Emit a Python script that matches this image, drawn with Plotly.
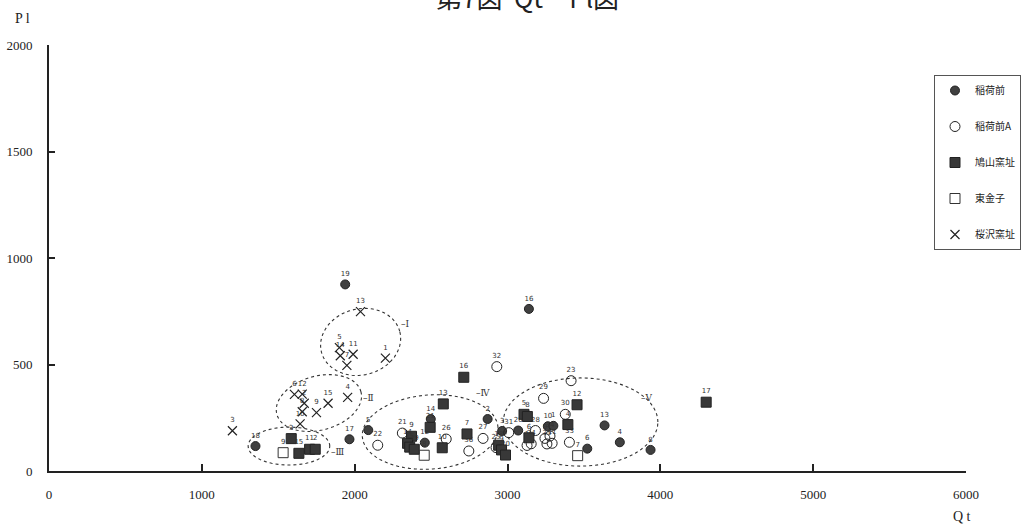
import numpy as np
import plotly.graph_objects as go

# ---- data: Qt / Pl values per site, with sample numbers ----
inari_no = ["19", "18", "17", "5", "12", "14", "2", "3", "20", "16", "10", "1", "6", "13", "4", "8"]
inari_qt = [1938, 1351, 1966, 2089, 2459, 2498, 2870, 2965, 3070, 3140, 3264, 3300, 3522, 3635, 3735, 3936]
inari_pl = [876, 117, 149, 192, 133, 244, 244, 188, 190, 761, 210, 212, 105, 214, 135, 99]

inariA_no = ["22", "21", "26", "36", "27", "32", "25", "31", "28", "24", "1", "29", "23", "30", "9", "34", "35", "11", "33"]
inariA_qt = [2151, 2312, 2599, 2747, 2840, 2930, 2925, 3008, 3183, 3155, 3128, 3236, 3416, 3378, 3245, 3278, 3258, 3292, 3405]
inariA_pl = [121, 178, 150, 94, 153, 490, 110, 180, 190, 128, 120, 341, 424, 266, 153, 164, 127, 130, 135]

hato_no = ["3", "15", "11", "2", "9", "14", "15", "19", "21", "13", "16", "10", "7", "18", "9", "20", "5", "8", "6", "12", "4", "17"]
hato_qt = [1585, 1635, 1705, 1742, 2372, 2346, 2360, 2390, 2494, 2580, 2714, 2573, 2735, 2942, 2961, 2987, 3108, 3130, 3140, 3455, 3395, 4300]
hato_pl = [152, 83, 102, 102, 163, 130, 112, 102, 205, 315, 440, 109, 174, 121, 99, 75, 266, 256, 156, 311, 218, 323]

higashi_no = ["9", "8", "7"]
higashi_qt = [1532, 2455, 3459]
higashi_pl = [86, 74, 72]

sakura_no = ["13", "5", "11", "14", "7", "1", "12", "6", "2", "8", "9", "15", "4", "10", "3"]
sakura_qt = [2038, 1900, 1990, 1906, 1949, 2201, 1657, 1606, 1670, 1657, 1750, 1826, 1954, 1643, 1200]
sakura_pl = [748, 579, 548, 541, 496, 530, 361, 360, 318, 278, 274, 318, 346, 221, 189]

x_ticks = [0, 1000, 2000, 3000, 4000, 5000, 6000]
y_ticks = [0, 500, 1000, 1500, 2000]

# groups I-V: name, centre (Qt, Pl), half-axes (Qt, Pl), tilt (deg), label position (Qt, Pl)
group_names = ["Ⅰ", "Ⅱ", "Ⅲ", "Ⅳ", "Ⅴ"]
group_cx = [2039, 1766, 1570, 2494, 3478]
group_cy = [606, 319, 117, 183, 230]
group_rx = [265, 285, 267, 445, 506]
group_ry = [155, 127, 89, 174, 207]
group_tilt = [15, 15, 0, 4, 0]
group_lx = [2330, 2090, 1890, 2840, 3910]
group_ly = [690, 345, 88, 368, 345]

# ---- layout geometry ----
L, R, T, B = 49, 56, 45, 56
W, H = 1022, 527
PW, PH = W - L - R, H - T - B
X_MAX, Y_MAX = 6000, 2000
sx, sy = PW / X_MAX, PH / Y_MAX

label_font = dict(family="DejaVu Sans", size=7, color="#333333")


def px_to_paper(px, py):
    return (px - L) / PW, (H - B - py) / PH


def ellipse_path(cx, cy, rx, ry, tilt):
    # rotate in screen space so the tilt looks right despite unequal axis scales
    t = np.linspace(0, 2 * np.pi, 73)
    a = np.deg2rad(tilt)
    ex, ey = rx * sx * np.cos(t), ry * sy * np.sin(t)
    px = ex * np.cos(a) - ey * np.sin(a)
    py = ex * np.sin(a) + ey * np.cos(a)
    xs = cx + px / sx
    ys = cy + py / sy
    return "M " + " L ".join(f"{x:.1f},{y:.1f}" for x, y in zip(xs, ys)) + " Z"


fig = go.Figure()


def add_series(name, qt, pl, nos, symbol, fill, size, line_w=1):
    fig.add_trace(go.Scatter(
        x=qt, y=pl, text=nos, name=name, mode="markers+text",
        textposition="top center", textfont=label_font,
        marker=dict(symbol=symbol, size=size, color=fill,
                    line=dict(color="#222222", width=line_w)),
        cliponaxis=False, legendgroup=name,
    ))


add_series("稲荷前", inari_qt, inari_pl, inari_no, "circle", "#404040", 9)
add_series("稲荷前A", inariA_qt, inariA_pl, inariA_no, "circle-open", "#222222", 10, 1)
add_series("鳩山窯址", hato_qt, hato_pl, hato_no, "square", "#383838", 10)
add_series("東金子", higashi_qt, higashi_pl, higashi_no, "square-open", "#333333", 10, 1)
add_series("桜沢窯址", sakura_qt, sakura_pl, sakura_no, "x-thin-open", "#222222", 9, 1.2)

shapes = []
annotations = []
for name, cx, cy, rx, ry, tl, lx, ly in zip(group_names, group_cx, group_cy, group_rx,
                                            group_ry, group_tilt, group_lx, group_ly):
    shapes.append(dict(type="path", xref="x", yref="y", path=ellipse_path(cx, cy, rx, ry, tl),
                       line=dict(color="#333333", width=1.1, dash="dot")))
    annotations.append(dict(x=lx, y=ly, xref="x", yref="y", text="–" + name, showarrow=False,
                            xanchor="center", yanchor="middle",
                            font=dict(family="DejaVu Serif", size=9, color="#333333")))

# title (sits at the very top edge), axis names
tx, ty = px_to_paper(527, 17)
annotations.append(dict(x=tx, y=ty, xref="paper", yref="paper",
                        text="第7図  Qt－Pl図", showarrow=False,
                        xanchor="center", yanchor="bottom",
                        font=dict(family="Noto Sans CJK JP", size=26, color="#222222")))
px_, py_ = px_to_paper(22, 18)
annotations.append(dict(x=px_, y=py_, xref="paper", yref="paper",
                        text="P l", showarrow=False, xanchor="center", yanchor="middle",
                        font=dict(family="Liberation Serif", size=14, color="#222222")))
qx, qy = px_to_paper(962, 516)
annotations.append(dict(x=qx, y=qy, xref="paper", yref="paper",
                        text="Q t", showarrow=False, xanchor="center", yanchor="middle",
                        font=dict(family="Liberation Serif", size=14, color="#222222")))

axis_common = dict(showgrid=False, zeroline=False, showline=True, linewidth=2,
                   linecolor="#222222", ticks="inside", tickwidth=2, tickcolor="#222222",
                   tickfont=dict(family="Liberation Serif", size=13, color="#222222"))

lx0, ly0 = px_to_paper(934, 75)
fig.update_layout(
    width=W, height=H,
    margin=dict(l=L, r=R, t=T, b=B, pad=0, autoexpand=False),
    paper_bgcolor="white", plot_bgcolor="white",
    xaxis=dict(range=[0, X_MAX], tickvals=x_ticks, ticklen=7, ticklabelstandoff=10,
               **axis_common),
    yaxis=dict(range=[0, Y_MAX], tickvals=y_ticks, ticklen=6, ticklabelstandoff=12,
               **axis_common),
    shapes=shapes, annotations=annotations,
    legend=dict(x=lx0, y=ly0, xanchor="left", yanchor="top",
                bordercolor="#555555", borderwidth=1, bgcolor="white",
                font=dict(family="Noto Sans CJK JP", size=10, color="#222222"),
                tracegroupgap=17, itemwidth=30),
    showlegend=True,
)

fig.write_html("out.html")
